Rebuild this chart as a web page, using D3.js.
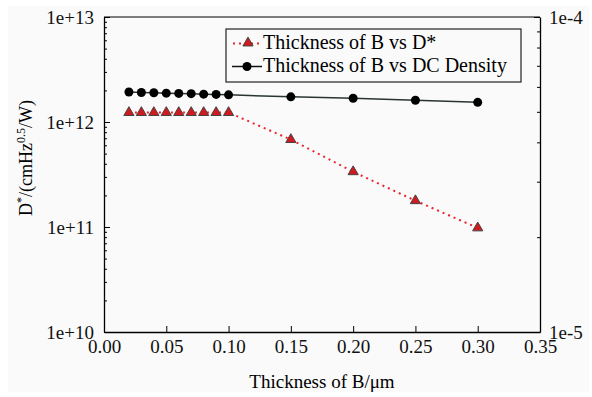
<!DOCTYPE html>
<html>
<head>
<meta charset="utf-8">
<script src="https://cdn.jsdelivr.net/npm/d3@7"></script>
<style>
  body { margin: 0; background: #fff; }
  svg { display: block; font-family: "Liberation Serif", "DejaVu Serif", serif; }
</style>
</head>
<body>
<svg id="chart" width="592" height="397"></svg>
<script>
// thickness of B (um)
var thickness = [0.02, 0.03, 0.04, 0.05, 0.06, 0.07, 0.08, 0.09, 0.10, 0.15, 0.20, 0.25, 0.30];
// detectivity D* (left axis)
var dstar = [1.23e12, 1.23e12, 1.23e12, 1.23e12, 1.23e12, 1.23e12, 1.23e12, 1.23e12, 1.23e12, 6.8e11, 3.36e11, 1.78e11, 9.8e10];
// dark current density (right axis)
var dcDensity = [5.78e-5, 5.76e-5, 5.75e-5, 5.73e-5, 5.72e-5, 5.71e-5, 5.69e-5, 5.68e-5, 5.66e-5, 5.58e-5, 5.52e-5, 5.44e-5, 5.36e-5];

var xTicks = [0, 0.05, 0.10, 0.15, 0.20, 0.25, 0.30, 0.35];
var leftMajor = [1e10, 1e11, 1e12, 1e13];
var legendLabels = ["Thickness of B vs D*", "Thickness of B vs DC Density"];

var margin = {top: 17, right: 52, bottom: 65, left: 104};
var width = 592 - margin.left - margin.right;
var height = 397 - margin.top - margin.bottom;

var svg = d3.select("#chart");

// light gray backing like the scanned figure
svg.append("rect")
   .attr("x", 8).attr("y", 6)
   .attr("width", 581).attr("height", 386)
   .attr("fill", "#fafafa");

var g = svg.append("g")
   .attr("transform", "translate(" + margin.left + "," + margin.top + ")");

var x = d3.scaleLinear().domain([0, 0.35]).range([0, width]);
var y = d3.scaleLog().domain([1e10, 1e13]).range([height, 0]);
var y2 = d3.scaleLog().domain([1e-5, 1e-4]).range([height, 0]);

// minor ticks for log axes
var leftMinor = [];
[1e10, 1e11, 1e12].forEach(function(d) {
  for (var k = 2; k <= 9; k++) leftMinor.push(d * k);
});
var rightMinor = [];
for (var k = 2; k <= 9; k++) rightMinor.push(1e-5 * k);

function styleAxis(sel) {
  sel.attr("font-family", null).attr("font-size", null);
  sel.selectAll("text").style("font-size", "19px").attr("fill", "#111");
}

// X axis
var xAxis = d3.axisBottom(x).tickValues(xTicks)
   .tickFormat(d3.format(".2f")).tickSizeInner(-6).tickSizeOuter(0).tickPadding(8);
var gx = g.append("g")
   .attr("transform", "translate(0," + height + ")")
   .call(xAxis);
styleAxis(gx);

// Left Y axis
var gyl = g.append("g")
   .call(d3.axisLeft(y).tickValues(leftMajor).tickFormat(function(d) {
      return "1e+" + Math.round(Math.log10(d));
   }).tickSizeInner(-6).tickSizeOuter(0).tickPadding(10));
styleAxis(gyl);
g.append("g")
   .call(d3.axisLeft(y).tickValues(leftMinor).tickFormat("").tickSizeInner(-3).tickSizeOuter(0))
   .select(".domain").remove();

// Right Y axis
var gyr = g.append("g")
   .attr("transform", "translate(" + width + ",0)")
   .call(d3.axisRight(y2).tickValues([1e-5, 1e-4]).tickFormat(function(d) {
      return "1e" + Math.round(Math.log10(d));
   }).tickSizeInner(-6).tickSizeOuter(0).tickPadding(9));
styleAxis(gyr);
g.append("g")
   .attr("transform", "translate(" + width + ",0)")
   .call(d3.axisRight(y2).tickValues(rightMinor).tickFormat("").tickSizeInner(-3).tickSizeOuter(0))
   .select(".domain").remove();

// top frame
g.append("line")
   .attr("x1", 0).attr("x2", width).attr("y1", 0).attr("y2", 0)
   .attr("stroke", "#000");

g.selectAll(".domain").attr("stroke-width", 1.3);

// axis titles
svg.append("text")
   .attr("x", margin.left + width / 2).attr("y", 388)
   .attr("text-anchor", "middle")
   .style("font-size", "19px")
   .text("Thickness of B/\u03bcm");

var yl = svg.append("text")
   .attr("transform", "translate(32," + 158 + ") rotate(-90)")
   .attr("text-anchor", "middle")
   .style("font-size", "18px");
yl.append("tspan").text("D");
yl.append("tspan").attr("dy", -7).style("font-size", "12px").text("*");
yl.append("tspan").attr("dy", 7).text("/(cmHz");
yl.append("tspan").attr("dy", -7).style("font-size", "12px").text("0.5");
yl.append("tspan").attr("dy", 7).text("/W)");

// DC density line (right axis)
var dcData = thickness.map(function(t, i) { return {t: t, v: dcDensity[i]}; });
var dsData = thickness.map(function(t, i) { return {t: t, v: dstar[i]}; });

g.append("path")
   .datum(dcData)
   .attr("fill", "none")
   .attr("stroke", "#2a3434")
   .attr("stroke-width", 1.5)
   .attr("d", d3.line().x(function(d) { return x(d.t); }).y(function(d) { return y2(d.v); }));

g.selectAll(".dc")
   .data(dcData).enter().append("circle")
   .attr("cx", function(d) { return x(d.t); })
   .attr("cy", function(d) { return y2(d.v); })
   .attr("r", 4.5)
   .attr("fill", "#000");

// D* line (left axis)
g.append("path")
   .datum(dsData)
   .attr("fill", "none")
   .attr("stroke", "#e8232a")
   .attr("stroke-width", 2)
   .attr("stroke-dasharray", "2,4")
   .attr("d", d3.line().x(function(d) { return x(d.t); }).y(function(d) { return y(d.v); }));

var tri = d3.symbol().type(d3.symbolTriangle).size(45);
g.selectAll(".ds")
   .data(dsData).enter().append("path")
   .attr("transform", function(d) { return "translate(" + x(d.t) + "," + y(d.v) + ")"; })
   .attr("d", tri)
   .attr("fill", "#d11a1f")
   .attr("stroke", "#444")
   .attr("stroke-width", 1);

// legend
var lg = svg.append("g").attr("transform", "translate(226,29)");
lg.append("rect")
   .attr("width", 295).attr("height", 53)
   .attr("fill", "#fafafa")
   .attr("stroke", "#222").attr("stroke-width", 1.2);

lg.append("line")
   .attr("x1", 7).attr("x2", 35).attr("y1", 14.5).attr("y2", 14.5)
   .attr("stroke", "#e8232a").attr("stroke-width", 2).attr("stroke-dasharray", "2,4");
lg.append("path")
   .attr("transform", "translate(22,14)")
   .attr("d", tri)
   .attr("fill", "#d11a1f").attr("stroke", "#444");
lg.append("line")
   .attr("x1", 6).attr("x2", 36).attr("y1", 37.5).attr("y2", 37.5)
   .attr("stroke", "#111").attr("stroke-width", 1.5);
lg.append("circle")
   .attr("cx", 21).attr("cy", 37.5).attr("r", 4.5).attr("fill", "#000");

lg.selectAll(".lt")
   .data(legendLabels).enter().append("text")
   .attr("x", 37)
   .attr("y", function(d, i) { return 20 + i * 23; })
   .style("font-size", "20px")
   .text(function(d) { return d; });
</script>
</body>
</html>
